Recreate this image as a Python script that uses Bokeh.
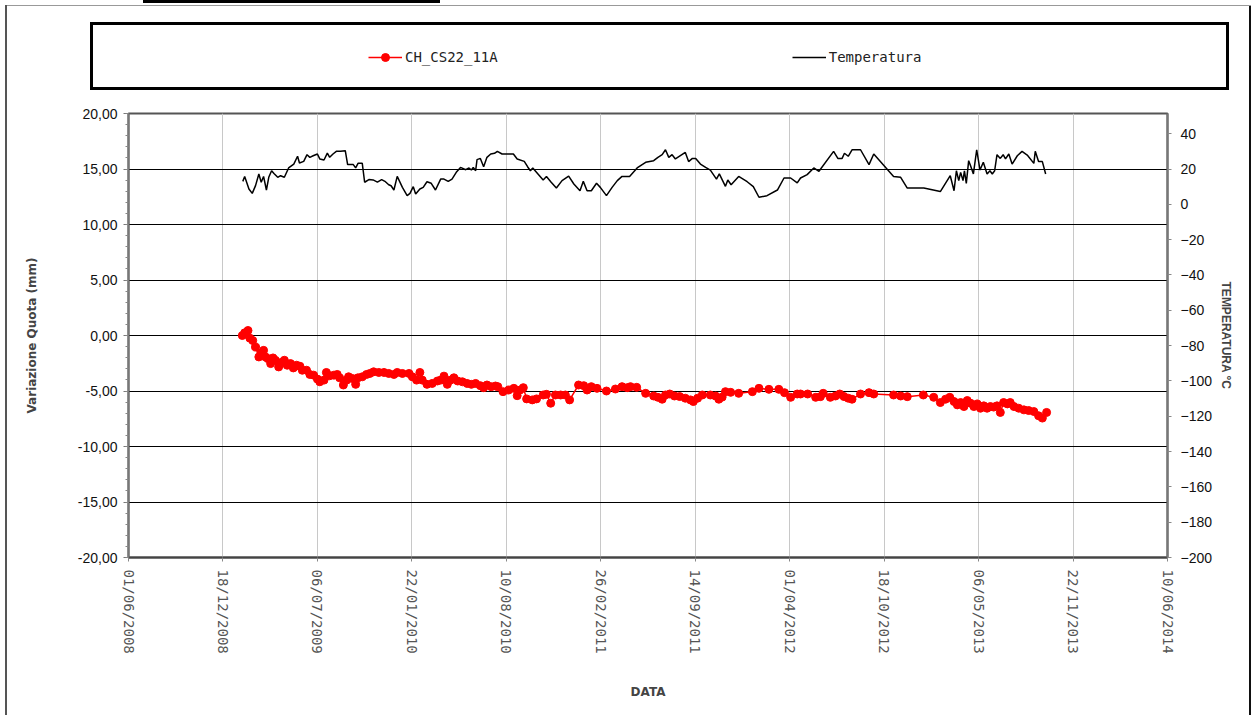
import pandas as pd
from bokeh.plotting import figure
from bokeh.layouts import column
from bokeh.models import (Range1d, LinearAxis, FixedTicker, DatetimeTickFormatter,
                          CustomJSTickFormatter, Legend, LegendItem)
from bokeh.embed import file_html
from bokeh.resources import INLINE

# ---------------- data ----------------
base_date = "2008-06-01"
tick_labels = ["01/06/2008", "18/12/2008", "06/07/2009", "22/01/2010", "10/08/2010",
               "26/02/2011", "14/09/2011", "01/04/2012", "18/10/2012", "06/05/2013",
               "22/11/2013", "10/06/2014"]

# displacement series CH_CS22_11A (days after base_date, mm)
disp_days = [241, 246, 253, 257, 263, 269, 276, 281, 286, 290, 295, 301, 306, 311, 318, 323, 330, 336,
             343, 349, 356, 363, 368, 377, 384, 392, 400, 405, 414, 419, 426, 435, 442, 447, 455, 462,
             466, 474, 481, 486, 495, 504, 511, 519, 530, 541, 551, 562, 569, 580, 594, 601, 610, 617,
             622, 632, 643, 654, 661, 668, 675, 682, 689, 697, 707, 717, 726, 735, 745, 752, 759, 768,
             777, 782, 793, 805, 816, 823, 829, 836, 843, 855, 864, 878, 885, 894, 904, 915, 925, 934,
             953, 964, 971, 980, 992, 1012, 1031, 1045, 1056, 1063, 1076, 1095, 1112, 1121, 1130, 1137,
             1146, 1156, 1167, 1179, 1190, 1196, 1205, 1215, 1232, 1243, 1250, 1257, 1264, 1275, 1292,
             1321, 1335, 1356, 1377, 1389, 1402, 1416, 1423, 1438, 1455, 1465, 1471, 1486, 1497, 1506,
             1515, 1524, 1532, 1550, 1568, 1578, 1620, 1635, 1649, 1683, 1705, 1719, 1730, 1739, 1748,
             1755, 1762, 1769, 1776, 1783, 1790, 1797, 1804, 1811, 1818, 1825, 1832, 1839, 1846, 1853,
             1861, 1867, 1875, 1885, 1896, 1906, 1917, 1927, 1935, 1944]
disp_mm = [0.0, 0.24, 0.45, -0.24, -0.45, -1.04, -1.93, -1.55, -1.34, -1.93, -2.08, -2.53, -2.02, -2.23,
           -2.83, -2.44, -2.23, -2.68, -2.53, -2.92, -2.68, -2.77, -3.13, -3.13, -3.51, -3.57, -3.93,
           -4.17, -4.02, -3.33, -3.63, -3.57, -3.51, -3.81, -4.46, -4.02, -3.72, -3.87, -4.4, -3.81,
           -3.72, -3.51, -3.42, -3.27, -3.33, -3.33, -3.42, -3.51, -3.33, -3.42, -3.42, -3.72, -4.02,
           -3.33, -4.02, -4.4, -4.32, -4.1, -4.02, -3.66, -4.4, -4.02, -3.81, -4.1, -4.17, -4.32, -4.4,
           -4.32, -4.52, -4.7, -4.46, -4.61, -4.55, -4.61, -5.06, -4.91, -4.76, -5.42, -4.91, -4.7,
           -5.71, -5.8, -5.71, -5.36, -5.3, -6.1, -5.36, -5.36, -5.36, -5.8, -4.46, -4.52, -4.91, -4.61,
           -4.76, -5.0, -4.82, -4.61, -4.7, -4.61, -4.67, -5.21, -5.45, -5.57, -5.74, -5.36, -5.27,
           -5.45, -5.5, -5.65, -5.8, -5.95, -5.65, -5.36, -5.36, -5.45, -5.74, -5.55, -5.06, -5.12,
           -5.21, -5.06, -4.76, -4.85, -4.85, -5.15, -5.57, -5.27, -5.27, -5.27, -5.57, -5.51, -5.21,
           -5.57, -5.45, -5.27, -5.5, -5.65, -5.74, -5.27, -5.15, -5.27, -5.36, -5.45, -5.51, -5.36,
           -5.57, -6.04, -5.74, -5.57, -5.95, -6.25, -6.04, -6.4, -5.86, -6.1, -6.4, -6.16, -6.55,
           -6.34, -6.55, -6.4, -6.45, -6.34, -6.93, -6.04, -6.16, -6.04, -6.4, -6.55, -6.7, -6.76,
           -6.85, -7.23, -7.44, -6.93]

# temperature series (days after base_date, degrees C)
temp_days = [242, 246, 255, 262, 269, 276, 281, 286, 292, 297, 303, 308, 316, 322, 330, 339, 350, 358,
             362, 371, 378, 384, 391, 400, 405, 414, 421, 426, 433, 440, 449, 459, 464, 476, 481, 486,
             495, 500, 509, 518, 527, 536, 544, 551, 556, 562, 569, 580, 590, 596, 603, 608, 617, 624,
             632, 641, 650, 661, 668, 677, 685, 694, 703, 714, 721, 726, 730, 735, 738, 745, 752, 759,
             767, 775, 781, 791, 802, 815, 823, 838, 845, 851, 856, 867, 878, 885, 895, 906, 918, 932,
             943, 956, 963, 971, 980, 991, 999, 1012, 1024, 1035, 1045, 1061, 1077, 1095, 1112, 1121,
             1130, 1137, 1144, 1151, 1158, 1179, 1186, 1194, 1201, 1211, 1222, 1232, 1245, 1251, 1264,
             1269, 1276, 1292, 1310, 1323, 1335, 1352, 1374, 1388, 1402, 1416, 1423, 1437, 1451, 1462,
             1493, 1502, 1511, 1516, 1524, 1532, 1550, 1568, 1578, 1620, 1635, 1649, 1684, 1719, 1740,
             1748, 1753, 1758, 1762, 1767, 1770, 1774, 1779, 1783, 1789, 1796, 1803, 1810, 1818, 1824,
             1829, 1834, 1839, 1846, 1852, 1857, 1864, 1871, 1882, 1892, 1903, 1917, 1920, 1927, 1935,
             1942]
temp_c = [13, 15.8, 8.7, 6.2, 10.6, 17.2, 12.5, 15.8, 8.1, 15.3, 19, 17.5, 15.3, 16.2, 15.3, 20.6, 22.8,
          27.2, 23.4, 24.3, 28.1, 26.6, 27.5, 28.5, 25.7, 25.1, 29, 26.6, 28.5, 30, 30, 30.4, 22.5, 22.5,
          20.6, 23.2, 23.2, 12.5, 14, 13.8, 12.6, 14, 12.8, 11.1, 10.5, 8.1, 15.8, 9.6, 4.9, 6.2, 10, 5.8,
          8.7, 9.6, 12.8, 11.9, 8.1, 14.3, 14.3, 13, 14.3, 18.1, 20.9, 19.6, 20.6, 19.4, 20.9, 19, 25.3,
          26, 21.3, 26.6, 28.5, 28.9, 30, 28.5, 28.5, 28.5, 25.7, 24.3, 21.3, 19, 20.6, 17.2, 13.8, 15.7,
          12.5, 9.2, 13.4, 16, 11.5, 7.7, 13, 7.7, 7.7, 11.9, 9.6, 4.9, 9.6, 13.4, 15.8, 15.8, 20.6, 23.8,
          24.7, 26.6, 28.1, 30.9, 26.6, 28.1, 25.7, 29.4, 24.2, 26, 26, 22.8, 20.9, 19.4, 14.3, 17.2, 10.2,
          13.8, 11.1, 15.8, 12.8, 10, 4, 4.9, 8.1, 14.9, 14.9, 12.1, 14.9, 16.8, 20.6, 18.7, 30, 26, 26,
          28.9, 27.2, 30.9, 30.9, 22.5, 28.5, 15.8, 15.3, 9.2, 9.2, 7.2, 16.2, 7.7, 19, 13.4, 18.1, 13.4,
          19, 11.9, 24.7, 21.9, 17.2, 30.9, 19.4, 23.8, 17.2, 19, 17.2, 19, 28.1, 26, 28.1, 25.7, 28.5,
          22.8, 27.5, 30, 27.9, 23.2, 30, 24.2, 24.2, 17.2]

left_ticks = [-20, -15, -10, -5, 0, 5, 10, 15, 20]
left_minor = list(range(-20, 21))
right_ticks = [-200, -180, -160, -140, -120, -100, -80, -60, -40, -20, 0, 20, 40]

series_names = ["CH_CS22_11A", "Temperatura"]
left_title = "Variazione Quota (mm)"
right_title = "TEMPERATURA °C"
x_title = "DATA"

# ---------------- build ----------------
base = pd.Timestamp(base_date)
disp_x = [base + pd.Timedelta(days=d) for d in disp_days]
temp_x = [base + pd.Timedelta(days=d) for d in temp_days]
tick_dates = pd.to_datetime(tick_labels, format="%d/%m/%Y")
tick_ms = [(t - pd.Timestamp("1970-01-01")).total_seconds() * 1000.0 for t in tick_dates]

W = 1255
TOP_H = 95
MAIN_H = 620
NAN = float("nan")

# ---- legend strip ----
top = figure(width=W, height=TOP_H, x_range=Range1d(0, 1), y_range=Range1d(0, 1),
             x_axis_location=None, y_axis_location=None,
             output_backend="svg", toolbar_location=None,
             min_border_left=92, min_border_right=27, min_border_top=22, min_border_bottom=5)
top.grid.visible = False
top.border_fill_alpha = 0
top.background_fill_alpha = 0
top.outline_line_color = None
lg_line = top.line([NAN], [NAN], line_color="#ff0000", line_width=1.5)
lg_pts = top.scatter([NAN], [NAN], marker="circle", size=8, fill_color="#ff0000", line_color="#ff0000")
lg_temp = top.line([NAN], [NAN], line_color="black", line_width=1.5)
legend = Legend(items=[LegendItem(label=series_names[0], renderers=[lg_line, lg_pts]),
                       LegendItem(label=series_names[1], renderers=[lg_temp])],
                orientation="horizontal", location=(240, 23), spacing=294,
                glyph_width=34, glyph_height=20, label_standoff=3, padding=0, margin=0,
                border_line_alpha=0, background_fill_alpha=0,
                label_text_font="DejaVu Sans Mono", label_text_font_size="14px",
                label_text_color="#222222")
top.add_layout(legend, "center")

# ---- main chart ----
p = figure(width=W, height=MAIN_H, x_axis_type="datetime",
           x_range=Range1d(tick_dates[0], tick_dates[-1]),
           y_range=Range1d(-20, 20),
           output_backend="svg", toolbar_location=None,
           min_border_left=128, min_border_right=88, min_border_top=18, min_border_bottom=158)
p.background_fill_color = "white"
p.border_fill_alpha = 0
p.outline_line_color = "#555555"
p.outline_line_width = 2

# temperature range: 20 C aligns with 15 mm, -200 C with -20 mm
p.extra_y_ranges = {"temp": Range1d(-200, -200 + 40 * 220 / 35)}

xa = p.xaxis[0]
xa.ticker = FixedTicker(ticks=tick_ms)
fmt = "%d/%m/%Y"
xa.formatter = DatetimeTickFormatter(microseconds=fmt, milliseconds=fmt, seconds=fmt, minsec=fmt,
                                     minutes=fmt, hourmin=fmt, hours=fmt, days=fmt, months=fmt, years=fmt)
xa.major_label_orientation = "vertical"
xa.major_label_text_font = "DejaVu Sans Mono"
xa.major_label_text_font_size = "14px"
xa.major_label_text_color = "#555555"
xa.major_label_standoff = 8
xa.axis_line_color = "#444444"
xa.axis_line_width = 2
xa.major_tick_line_color = "#888888"
xa.major_tick_out = 4
xa.major_tick_in = 0
xa.minor_tick_line_color = None
xa.axis_label = x_title
xa.axis_label_text_font = "DejaVu Sans"
xa.axis_label_text_font_style = "bold"
xa.axis_label_text_font_size = "12px"
xa.axis_label_standoff = 28

ya = p.yaxis[0]
ya.ticker = FixedTicker(ticks=left_ticks, minor_ticks=left_minor)
ya.formatter = CustomJSTickFormatter(code="return tick.toFixed(2).replace('.', ',');")
ya.major_label_text_font = "Liberation Sans"
ya.major_label_text_font_size = "14px"
ya.major_label_text_color = "#111111"
ya.axis_line_color = "#777777"
ya.axis_line_width = 2
ya.major_tick_line_color = "#777777"
ya.major_tick_out = 5
ya.major_tick_in = 0
ya.minor_tick_line_color = "#888888"
ya.minor_tick_out = 3
ya.minor_tick_in = 0
ya.major_label_standoff = 6
ya.axis_label = left_title
ya.axis_label_text_font = "DejaVu Sans"
ya.axis_label_text_font_style = "bold"
ya.axis_label_text_font_size = "12px"
ya.axis_label_standoff = 36

ra = LinearAxis(y_range_name="temp", ticker=FixedTicker(ticks=right_ticks, minor_ticks=[]))
ra.major_label_text_font = "Liberation Sans"
ra.major_label_text_font_size = "14px"
ra.major_label_text_color = "#111111"
ra.axis_line_color = "#777777"
ra.axis_line_width = 2
ra.major_tick_line_color = "#888888"
ra.major_tick_out = 4
ra.major_tick_in = 0
ra.minor_tick_line_color = None
ra.major_label_standoff = 9
ra.axis_label = right_title
ra.axis_label_text_font = "Liberation Sans"
ra.axis_label_text_font_style = "bold"
ra.axis_label_text_font_size = "12px"
ra.axis_label_standoff = 4
p.add_layout(ra, "right")

p.xgrid.grid_line_color = "#c8c8c8"
p.xgrid.grid_line_width = 1
p.ygrid.grid_line_color = "black"
p.ygrid.grid_line_width = 1.2

p.line(temp_x, temp_c, y_range_name="temp", line_color="black", line_width=1.5)
p.line(disp_x, disp_mm, line_color="#ff0000", line_width=1.5)
p.scatter(disp_x, disp_mm, marker="circle", size=8, fill_color="#ff0000", line_color="#ff0000")

# page frame and legend box lines drawn as CSS backgrounds behind the transparent figure borders
page_bg = ", ".join([
    "linear-gradient(#000,#000) 143px 0px / 297px 3px no-repeat",      # strip at top edge
    "linear-gradient(#000,#000) 90px 22px / 1139px 3px no-repeat",     # legend box top
    "linear-gradient(#000,#000) 90px 87px / 1139px 3px no-repeat",     # legend box bottom
    "linear-gradient(#000,#000) 90px 22px / 3px 68px no-repeat",       # legend box left
    "linear-gradient(#000,#000) 1226px 22px / 3px 68px no-repeat",     # legend box right
    "linear-gradient(#555,#555) 5px 5px / 2px 100% no-repeat",         # page left
    "linear-gradient(#999,#999) 5px 5px / 1246px 1px no-repeat",       # page top
    "linear-gradient(#111,#111) 1249px 5px / 2px 100% no-repeat",      # page right
    "#ffffff",
])
layout = column(top, p, spacing=0, styles={"background": page_bg})

open("out.html", "w").write(file_html(layout, INLINE))
